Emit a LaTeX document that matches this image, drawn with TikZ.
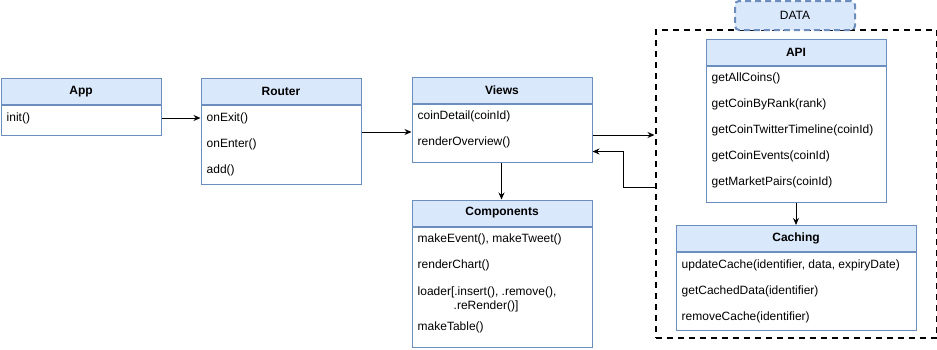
\documentclass[tikz,border=0pt]{standalone}
\usepackage{fontspec}
\setmainfont{Liberation Sans}
\usetikzlibrary{arrows.meta,positioning}
\definecolor{hdrfill}{HTML}{DAE8FC}
\definecolor{hdrline}{HTML}{6C8EBF}
\begin{document}
\begin{tikzpicture}[x=1pt,y=-1pt,
  font=\fontsize{12}{14}\selectfont,
  hdr/.style={draw=hdrline,fill=hdrfill,line width=1pt,anchor=north west,
    minimum height=26,inner sep=0pt,font=\fontsize{12}{14}\selectfont\bfseries},
  body/.style={draw=hdrline,fill=white,line width=1pt,anchor=north west,inner sep=0pt},
  row/.style={anchor=west,inner sep=0pt},
  conn/.style={line width=1pt,-{Stealth[length=7pt,width=6pt]}},
  group/.style={draw=black,line width=2pt,dash pattern=on 6pt off 5pt},
  tag/.style={draw=hdrline,fill=hdrfill,line width=2pt,dash pattern=on 6pt off 4pt,
    rounded corners=4pt,minimum width=120,minimum height=29,inner sep=0pt}]
\useasboundingbox (0,0) rectangle (937,349);

% data layer frame and its tag
\node[group,anchor=north west,minimum width=281,minimum height=308,inner sep=0pt] (data) at (654.5,29) {};
\node[tag] (datatag) at (795,15.5) {DATA};

% App
\node[hdr,minimum width=160] (app) at (0.5,78) {App};
\node[body,minimum width=160,minimum height=30] (appb) at (app.south west) {};
\node[row] (appinit) at ([xshift=6]appb.north west |- 0,118) {init()};

% Router
\node[hdr,minimum width=160] (router) at (200.5,78) {Router};
\node[body,minimum width=160,minimum height=78.5] (routerb) at (router.south west) {};
\node[row] (rexit) at ([xshift=6]routerb.west |- 0,118) {onExit()};
\node[row] (renter) at ([xshift=6]routerb.west |- 0,144) {onEnter()};
\node[row] (radd) at ([xshift=6]routerb.west |- 0,170) {add()};

% Views
\node[hdr,minimum width=180] (views) at (411.5,77) {Views};
\node[body,minimum width=180,minimum height=58] (viewsb) at (views.south west) {};
\node[row] (vdetail) at ([xshift=6]viewsb.west |- 0,116) {coinDetail(coinId)};
\node[row] (voverview) at ([xshift=6]viewsb.west |- 0,142) {renderOverview()};

% Components
\node[hdr,minimum width=180] (comp) at (411.5,199.5) {Components};
\node[body,minimum width=180,minimum height=120.5] (compb) at (comp.south west) {};
\node[row] (cmake) at ([xshift=6]compb.west |- 0,239.5) {makeEvent(), makeTweet()};
\node[row] (cchart) at ([xshift=6]compb.west |- 0,265.5) {renderChart()};
\node[row,align=left] (cloader) at ([xshift=6]compb.west |- 0,299) {loader[.insert(), .remove(),\\\hspace*{36pt}.reRender()]};
\node[row] (ctable) at ([xshift=6]compb.west |- 0,327.5) {makeTable()};

% API
\node[hdr,minimum width=180] (api) at (705.5,38.5) {API};
\node[body,minimum width=180,minimum height=136] (apib) at (api.south west) {};
\node[row] (aall) at ([xshift=6]apib.west |- 0,78.5) {getAllCoins()};
\node[row] (arank) at ([xshift=6]apib.west |- 0,104) {getCoinByRank(rank)};
\node[row] (atwit) at ([xshift=6]apib.west |- 0,130) {getCoinTwitterTimeline(coinId)};
\node[row] (aevents) at ([xshift=6]apib.west |- 0,156) {getCoinEvents(coinId)};
\node[row] (apairs) at ([xshift=6]apib.west |- 0,182) {getMarketPairs(coinId)};

% Caching
\node[hdr,minimum width=240] (cache) at (675.5,225) {Caching};
\node[body,minimum width=240,minimum height=78] (cacheb) at (cache.south west) {};
\node[row] (cupdate) at ([xshift=6]cacheb.west |- 0,265) {updateCache(identifier, data, expiryDate)};
\node[row] (cget) at ([xshift=6]cacheb.west |- 0,291) {getCachedData(identifier)};
\node[row] (cremove) at ([xshift=6]cacheb.west |- 0,317) {removeCache(identifier)};

% connectors
\coordinate (bend) at (623,187);
\draw[conn] (appb.east |- appinit) -- (routerb.west |- appinit);
\draw[conn] (routerb.east |- 0,132) -- (viewsb.west |- 0,132);
\draw[conn] (viewsb.east |- 0,135) -- (data.west |- 0,135);
\draw[conn] (data.west |- bend) -- (bend) -- (bend |- 0,151.5) -- (viewsb.east |- 0,151.5);
\draw[conn] (viewsb.south -| 501.5,0) -- (comp.north -| 501.5,0);
\draw[conn] (apib.south) -- (cache.north -| apib.south);
\end{tikzpicture}
\end{document}
